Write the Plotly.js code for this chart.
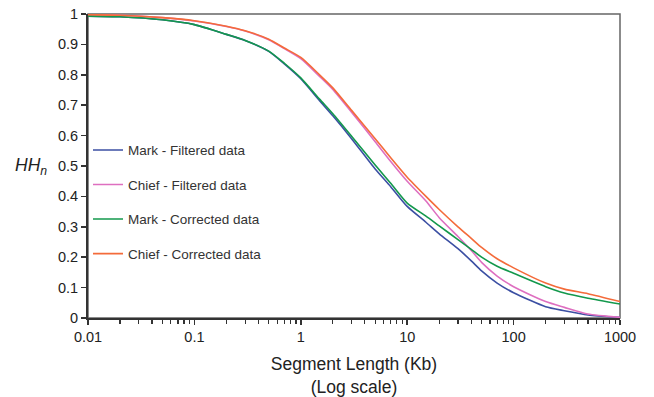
<!DOCTYPE html>
<html>
<head>
<meta charset="utf-8">
<script src="https://cdn.plot.ly/plotly-3.0.1.min.js"></script>
<style>html,body{margin:0;padding:0;background:#fff;}#chart{width:654px;height:397px;}</style>
</head>
<body>
<div id="chart"></div>
<script>
// Segment length (Kb)
const segmentLength = [0.01, 0.02, 0.05, 0.1, 0.2, 0.3, 0.5, 0.7, 1, 1.5, 2, 3, 5, 7, 10, 15, 20, 30, 40, 50, 70, 100, 200, 300, 500, 1000];

const markFiltered = [0.993, 0.991, 0.981, 0.965, 0.933, 0.913, 0.877, 0.836, 0.787, 0.715, 0.665, 0.59, 0.49, 0.432, 0.367, 0.315, 0.277, 0.228, 0.188, 0.155, 0.115, 0.083, 0.037, 0.024, 0.01, 0.002];
const chiefFiltered = [0.998, 0.996, 0.988, 0.977, 0.959, 0.944, 0.915, 0.886, 0.853, 0.795, 0.752, 0.677, 0.58, 0.515, 0.45, 0.385, 0.33, 0.268, 0.222, 0.183, 0.138, 0.103, 0.054, 0.035, 0.013, 0.002];
const markCorrected = [0.993, 0.991, 0.981, 0.965, 0.933, 0.913, 0.878, 0.838, 0.79, 0.72, 0.672, 0.598, 0.503, 0.443, 0.378, 0.335, 0.303, 0.258, 0.226, 0.2, 0.17, 0.147, 0.103, 0.082, 0.065, 0.046];
const chiefCorrected = [0.998, 0.996, 0.988, 0.978, 0.96, 0.945, 0.917, 0.888, 0.857, 0.8, 0.757, 0.683, 0.59, 0.527, 0.463, 0.4, 0.357, 0.3, 0.262, 0.232, 0.195, 0.165, 0.115, 0.095, 0.08, 0.054];

const seriesNames = ["Mark - Filtered data", "Chief - Filtered data", "Mark - Corrected data", "Chief - Corrected data"];
const seriesValues = [markFiltered, chiefFiltered, markCorrected, chiefCorrected];
const seriesColors = ["#3b4fa3", "#de6fc0", "#13984c", "#f46b3a"];

const xTickVals = [0.01, 0.1, 1, 10, 100, 1000];
const xTickText = ["0.01", "0.1", "1", "10", "100", "1000"];
const yTickVals = [0, 0.1, 0.2, 0.3, 0.4, 0.5, 0.6, 0.7, 0.8, 0.9, 1];
const yTickText = ["0", "0.1", "0.2", "0.3", "0.4", "0.5", "0.6", "0.7", "0.8", "0.9", "1"];

const traces = seriesValues.map((vals, i) => ({
  x: segmentLength,
  y: vals,
  type: "scatter",
  mode: "lines",
  name: seriesNames[i],
  legendgroup: "g" + i,
  line: {color: seriesColors[i], width: 1.6, shape: "spline", smoothing: 0.6},
  hoverinfo: "skip"
}));

const font = "Liberation Sans, Arial, sans-serif";

const layout = {
  width: 654,
  height: 397,
  margin: {l: 88, r: 34, t: 14, b: 79},
  paper_bgcolor: "#fff",
  plot_bgcolor: "#fff",
  font: {family: font, color: "#222", size: 14},
  showlegend: true,
  legend: {
    x: 0.0, y: 0.603, xanchor: "left", yanchor: "top",
    bgcolor: "rgba(0,0,0,0)",
    font: {family: font, size: 13.5, color: "#333"},
    tracegroupgap: 14,
    itemwidth: 30
  },
  xaxis: {
    type: "log",
    range: [-2, 3],
    tickvals: xTickVals,
    ticktext: xTickText,
    ticks: "outside",
    ticklen: 5,
    tickwidth: 1.5,
    tickcolor: "#333",
    minor: {ticks: "outside", ticklen: 4, tickwidth: 1.2, tickcolor: "#333", dtick: "D1", showgrid: false},
    showline: true,
    linecolor: "#333",
    linewidth: 2,
    showgrid: false,
    zeroline: false,
    tickfont: {size: 14.5, color: "#222"},
    title: {text: "Segment Length (Kb)<br>(Log scale)", font: {size: 17.5, color: "#222"}, standoff: 14}
  },
  yaxis: {
    range: [0, 1],
    tickvals: yTickVals,
    ticktext: yTickText,
    ticks: "outside",
    ticklen: 5,
    tickwidth: 1.5,
    tickcolor: "#333",
    showline: true,
    linecolor: "#333",
    linewidth: 2,
    showgrid: false,
    zeroline: false,
    tickfont: {size: 14.5, color: "#222"}
  },
  shapes: [{
    type: "rect", xref: "paper", yref: "paper", x0: 0, x1: 1, y0: 0, y1: 1,
    line: {color: "#666", width: 1.5}, layer: "below"
  }],
  annotations: [{
    text: "<i>HH<sub>n</sub></i>",
    xref: "paper", yref: "paper",
    x: -0.108, y: 0.5, xanchor: "center", yanchor: "middle",
    showarrow: false,
    font: {family: font, size: 17.5, color: "#222"}
  }]
};

Plotly.newPlot("chart", traces, layout, {displayModeBar: false, staticPlot: true});
</script>
</body>
</html>
